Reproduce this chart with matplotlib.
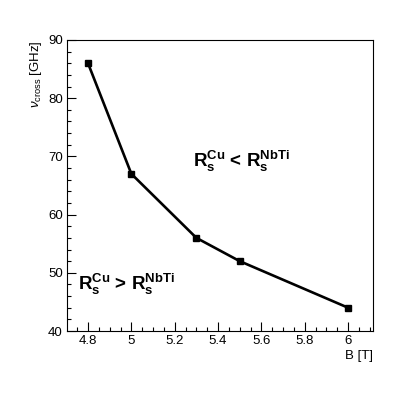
import matplotlib
matplotlib.use("Agg")
import matplotlib.pyplot as plt
from matplotlib.ticker import MultipleLocator

# field and crossing frequency
b_field = [4.8, 5.0, 5.3, 5.5, 6.0]
nu_cross = [86, 67, 56, 52, 44]

plt.rcParams["font.family"] = ["Liberation Sans", "DejaVu Sans"]
plt.rcParams["mathtext.fontset"] = "custom"
plt.rcParams["mathtext.rm"] = "Liberation Sans"
plt.rcParams["mathtext.it"] = "Liberation Sans:italic"
plt.rcParams["mathtext.bf"] = "Liberation Sans:bold"

fig = plt.figure(figsize=(4.15, 3.96), dpi=100)
ax = fig.add_axes([67 / 415, 65 / 396, 306 / 415, 291 / 396])

ax.plot(b_field, nu_cross, color="black", lw=1.9, marker="s", ms=4.5, mec="black", mfc="black")

ax.set_xlim(4.703, 6.115)
ax.set_ylim(40, 90)
ax.xaxis.set_major_locator(MultipleLocator(0.2))
ax.xaxis.set_minor_locator(MultipleLocator(0.05))
ax.yaxis.set_major_locator(MultipleLocator(10))
ax.yaxis.set_minor_locator(MultipleLocator(2))
ax.tick_params(which="both", direction="in", top=False, right=False, labelsize=9.5, width=0.8)
ax.tick_params(which="major", length=6.5, pad=3)
ax.tick_params(which="minor", length=3.2)
ax.set_xticks([4.8, 5.0, 5.2, 5.4, 5.6, 5.8, 6.0])
ax.set_xticklabels(["4.8", "5", "5.2", "5.4", "5.6", "5.8", "6"])
for s in ax.spines.values():
    s.set_linewidth(0.8)

ax.set_xlabel("B [T]", fontsize=9.5, loc="right", labelpad=2)
ax.set_ylabel(r"$\nu_{\rm cross}$ [GHz]", fontsize=9.5, loc="top", labelpad=3)

ax.text(5.285, 68.2, r"$\mathbf{R_s^{Cu}}$ < $\mathbf{R_s^{NbTi}}$", fontsize=13.5, fontweight="bold")
ax.text(4.754, 47.0, r"$\mathbf{R_s^{Cu}}$ > $\mathbf{R_s^{NbTi}}$", fontsize=13.5, fontweight="bold")

fig.savefig("out.png", dpi=100)
